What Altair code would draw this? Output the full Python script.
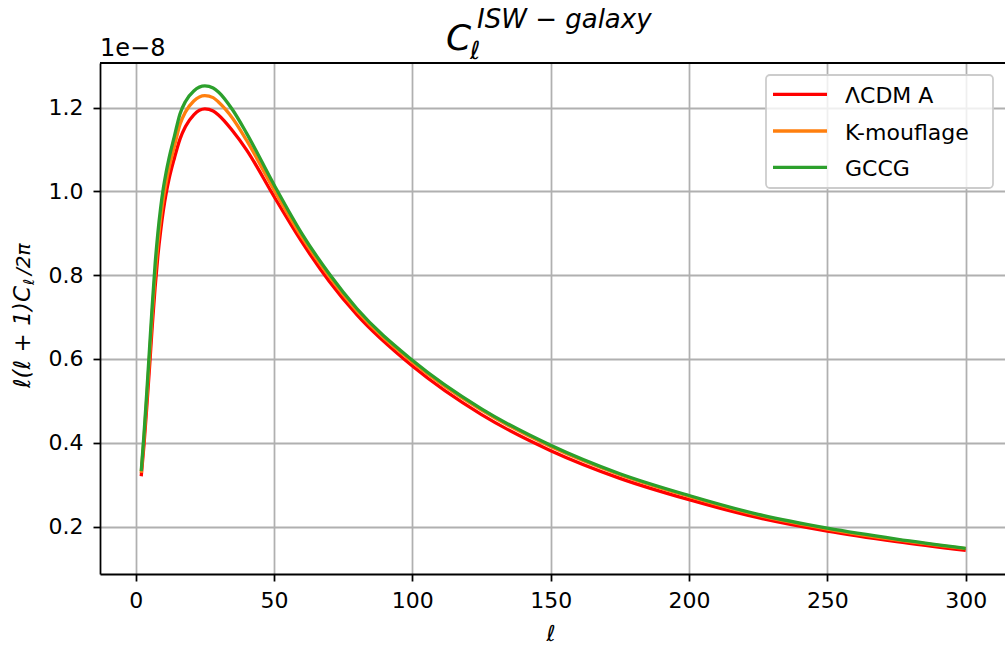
import altair as alt
import pandas as pd

# ---- data ----
ell = [2, 3, 4, 5, 6, 7, 8, 9, 10, 11, 12, 14, 16, 18, 21, 25, 28, 30, 35, 40, 50, 60, 70,
       80, 100, 125, 150, 175, 200, 225, 250, 275, 300]
lcdm = [0.320, 0.395, 0.485, 0.580, 0.680, 0.770, 0.845, 0.905, 0.955, 0.995, 1.028, 1.080,
        1.125, 1.155, 1.183, 1.197, 1.192, 1.182, 1.145, 1.100, 0.988, 0.880, 0.785, 0.705,
        0.583, 0.467, 0.381, 0.315, 0.264, 0.221, 0.189, 0.164, 0.143]
kmouf = [0.328, 0.410, 0.505, 0.605, 0.710, 0.800, 0.875, 0.935, 0.983, 1.022, 1.055, 1.108,
         1.160, 1.190, 1.216, 1.229, 1.224, 1.213, 1.175, 1.123, 1.004, 0.892, 0.797, 0.715,
         0.593, 0.478, 0.391, 0.324, 0.272, 0.227, 0.194, 0.168, 0.147]
gccg = [0.332, 0.420, 0.520, 0.625, 0.730, 0.825, 0.900, 0.960, 1.008, 1.046, 1.078, 1.132,
        1.185, 1.215, 1.240, 1.252, 1.247, 1.237, 1.195, 1.140, 1.016, 0.900, 0.803, 0.720,
        0.597, 0.481, 0.394, 0.326, 0.274, 0.229, 0.196, 0.170, 0.148]

series_names = ["\u039bCDM A", "K-mouflage", "GCCG"]
series_values = [lcdm, kmouf, gccg]
series_colors = ["#ff0000", "#ff7f0e", "#2ca02c"]

x_ticks = [0, 50, 100, 150, 200, 250, 300]
y_ticks = [0.2, 0.4, 0.6, 0.8, 1.0, 1.2]

FONT = "DejaVu Sans"
W, H = 905, 511
LW = 3.3

xscale = alt.Scale(domain=[-12.9, 314.2], nice=False, zero=False)
yscale = alt.Scale(domain=[0.0866, 1.3067], nice=False, zero=False)

xaxis = alt.Axis(values=x_ticks, title=None, grid=True, gridColor="#b0b0b0", gridWidth=1.76,
                 labelFont=FONT, labelFontSize=22, labelColor="black", labelPadding=9,
                 tickSize=7, tickWidth=1.76, tickColor="black", domainColor="black",
                 domainWidth=1.76, format="d", labelFlush=False)
yaxis = alt.Axis(values=y_ticks, title=None, grid=True, gridColor="#b0b0b0", gridWidth=1.76,
                 labelFont=FONT, labelFontSize=22, labelColor="black", labelPadding=10,
                 tickSize=7, tickWidth=1.76, tickColor="black", domainColor="black",
                 domainWidth=1.76, format=".1f", labelFlush=False)

layers = []
for name, vals, col in zip(series_names, series_values, series_colors):
    df = pd.DataFrame({"l": ell, "v": vals, "s": name})
    layers.append(
        alt.Chart(df).mark_line(color=col, strokeWidth=LW, interpolate="monotone",
                                clip=True).encode(
            x=alt.X("l:Q", scale=xscale, axis=xaxis),
            y=alt.Y("v:Q", scale=yscale, axis=yaxis),
        )
    )

one = pd.DataFrame({"a": [0]})


def txt(text, x, y, size, angle=0, align="left", italic=False, baseline="alphabetic"):
    kw = dict(text=text, fontSize=size, font=FONT, align=align, baseline=baseline,
              color="black")
    if angle:
        kw["angle"] = angle
    if italic:
        kw["fontStyle"] = "italic"
    return alt.Chart(one).mark_text(**kw).encode(x=alt.value(x), y=alt.value(y))


# top spine
layers.append(alt.Chart(one).mark_rule(color="black", strokeWidth=1.76).encode(
    x=alt.value(0), x2=alt.value(W), y=alt.value(0)))

# title  C_l^{ISW - galaxy}
layers.append(txt("C", 346, -13, 36, italic=True))
layers.append(txt("\u2113", 370, -4, 25, italic=True))
layers.append(txt("ISW \u2212 galaxy", 377, -35, 26, italic=True))

# offset text
layers.append(txt("1e\u22128", 0, -7, 24))

# y label  l(l+1)C_l/2pi
layers.append(txt("\u2113(\u2113\u2004+\u20041)C", -70, 223, 23, angle=270, align="right",
                  italic=True))
layers.append(txt("\u2113", -66, 222, 15, angle=270, italic=True))
layers.append(txt("/2\u03c0", -70, 212, 20, angle=270, italic=True))

# x label
layers.append(txt("\u2113", 451, 578, 22, align="center", italic=True))

# legend
layers.append(alt.Chart(one).mark_rect(fill="white", fillOpacity=0.8, stroke="#cccccc",
                                       strokeWidth=1.76, cornerRadius=4).encode(
    x=alt.value(666), x2=alt.value(893), y=alt.value(12), y2=alt.value(125)))
leg_y = [31.3, 68.0, 104.3]
for name, col, ly in zip(series_names, series_colors, leg_y):
    layers.append(alt.Chart(one).mark_rule(color=col, strokeWidth=LW).encode(
        x=alt.value(673), x2=alt.value(727), y=alt.value(ly)))
    layers.append(txt(name, 745, ly + 8.5, 22))

chart = alt.layer(*layers).properties(
    width=W, height=H,
    padding={"left": 100, "top": 63, "right": 0, "bottom": 71},
    autosize=alt.AutoSizeParams(type="none"),
    background="white",
).configure_view(stroke=None)

chart.save("out.html", embed_options={"renderer": "svg", "actions": False})
